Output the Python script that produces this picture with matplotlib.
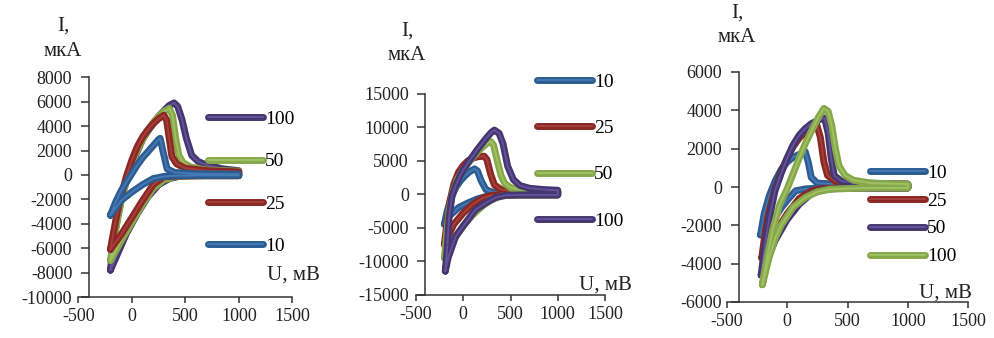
import matplotlib
matplotlib.use('Agg')
import matplotlib.pyplot as plt
import matplotlib.patheffects as pe

plt.rcParams['font.family'] = ['Liberation Serif', 'DejaVu Serif']
plt.rcParams['axes.unicode_minus'] = False

# scan rates, mV/s
RATES = ['10', '25', '50', '100']

# panel 1 (U in mV, I in uA), forward branch then reverse branch
p1_u10 = [-200, -150, -100, -50, 0, 50, 100, 150, 200, 250, 265, 290, 330, 400, 600, 800, 1000,
          1000, 800, 600, 400, 300, 200, 100, 0, -100, -200]
p1_i10 = [-3300, -2200, -1300, -600, 100, 800, 1400, 1900, 2400, 2900, 3000, 2000, 500, 200, 100, 80, 60,
          -40, -40, -40, -60, -120, -300, -800, -1400, -2100, -3300]
p1_u25 = [-200, -150, -100, -50, 0, 50, 100, 150, 200, 250, 300, 325, 350, 375, 420, 500, 700, 1000,
          1000, 700, 500, 400, 300, 200, 100, 0, -100, -200]
p1_i25 = [-6100, -3700, -1700, -100, 1200, 2300, 3100, 3700, 4200, 4600, 4900, 4500, 3000, 1500, 900, 550, 350, 250,
          -60, -60, -80, -100, -150, -800, -2100, -3500, -4900, -6100]
p1_u50 = [-200, -150, -100, -50, 0, 50, 100, 150, 200, 250, 300, 350, 380, 410, 440, 480, 550, 700, 1000,
          1000, 700, 500, 400, 300, 200, 100, 0, -100, -200]
p1_i50 = [-7000, -4400, -2200, -500, 900, 2000, 2900, 3700, 4300, 4800, 5200, 5450, 4900, 3000, 1600, 1000, 650, 400, 300,
          -60, -60, -80, -150, -400, -1100, -2400, -3900, -5400, -7000]
p1_u100 = [-200, -170, -130, -80, 0, 50, 100, 150, 200, 250, 310, 350, 395, 430, 470, 510, 560, 620, 700, 850, 1000,
           1000, 800, 600, 450, 350, 250, 150, 50, -50, -150, -200]
p1_i100 = [-7800, -5500, -3300, -1200, 800, 1900, 2900, 3600, 4200, 4800, 5350, 5700, 5900, 5600, 4500, 3000, 1600, 1100, 800, 500, 350,
           -60, -60, -60, -100, -300, -800, -1800, -3200, -4800, -6800, -7800]

# panel 2
p2_u10 = [-200, -170, -130, -80, -30, 20, 70, 120, 150, 190, 240, 300, 450, 700, 1000,
          1000, 600, 350, 250, 150, 50, -50, -150, -200]
p2_i10 = [-4500, -2500, -600, 1000, 2000, 2800, 3400, 3800, 3500, 2000, 700, 350, 250, 300, 350,
          -100, -100, -150, -300, -700, -1300, -2000, -3300, -4500]
p2_u25 = [-200, -170, -140, -100, -50, 0, 50, 100, 150, 220, 250, 290, 330, 400, 550, 800, 1000,
          1000, 700, 400, 300, 200, 100, 0, -100, -200]
p2_i25 = [-7500, -4000, -1000, 1500, 3300, 4300, 5000, 5400, 5600, 5700, 5200, 3000, 1400, 700, 450, 400, 400,
          -100, -100, -100, -150, -600, -1500, -2800, -4500, -7500]
p2_u50 = [-200, -175, -150, -110, -60, 0, 50, 100, 150, 200, 250, 290, 320, 360, 400, 440, 500, 650, 1000,
          1000, 700, 500, 400, 300, 200, 100, 0, -100, -200]
p2_i50 = [-9500, -6000, -2500, 300, 2300, 3600, 4600, 5500, 6300, 7000, 7600, 7900, 7400, 5000, 2800, 1600, 1000, 600, 450,
          -100, -100, -100, -300, -800, -1800, -3100, -4700, -6800, -9500]
p2_u100 = [-190, -170, -150, -120, -80, -40, 0, 50, 100, 150, 200, 250, 300, 330, 380, 420, 470, 530, 600, 700, 850, 1000,
           1000, 800, 600, 450, 350, 250, 130, 50, -80, -160, -190]
p2_i100 = [-11500, -8000, -3500, -300, 1300, 2600, 3600, 4700, 5700, 6700, 7600, 8500, 9300, 9600, 9100, 7600, 4200, 2200, 1300, 900, 700, 600,
           -100, -100, -100, -150, -450, -1200, -2300, -3800, -6300, -9500, -11500]

# panel 3
p3_u10 = [-220, -190, -150, -100, -50, 0, 50, 100, 150, 175, 200, 250, 400, 700, 1000,
          1000, 500, 250, 150, 70, 0, -50, -120, -220]
p3_i10 = [-2500, -1400, -500, 300, 900, 1300, 1550, 1700, 1850, 1300, 500, 200, 150, 120, 100,
          -50, -50, -60, -100, -200, -700, -1100, -1800, -2500]
p3_u25 = [-210, -180, -150, -100, -50, 0, 50, 100, 150, 200, 245, 275, 305, 335, 400, 600, 1000,
          1000, 500, 300, 200, 100, 0, -100, -210]
p3_i25 = [-3700, -2300, -1300, -100, 800, 1500, 2100, 2550, 2850, 3100, 3250, 2600, 1300, 600, 300, 200, 150,
          -50, -50, -80, -200, -600, -1400, -2400, -3700]
p3_u50 = [-215, -185, -150, -100, -50, 0, 50, 100, 150, 200, 260, 310, 340, 365, 390, 450, 650, 1000,
          1000, 600, 400, 300, 200, 100, 0, -100, -215]
p3_i50 = [-4600, -3100, -1700, -200, 700, 1500, 2200, 2700, 3050, 3300, 3500, 3600, 2800, 1500, 600, 300, 200, 150,
          -50, -50, -80, -150, -350, -900, -1700, -2800, -4600]
p3_u100 = [-205, -160, -120, -60, 0, 50, 100, 150, 200, 260, 305, 340, 370, 400, 430, 480, 550, 700, 1000,
           1000, 700, 500, 350, 250, 150, 50, -50, -100, -150, -205]
p3_i100 = [-5100, -3500, -2250, -900, -100, 700, 1500, 2250, 2900, 3650, 4100, 3950, 3200, 2000, 1100, 600, 350, 200, 150,
           -50, -50, -80, -120, -250, -550, -1050, -2000, -2700, -3700, -5100]

p1_ylim = (-10000, 8000)
p2_ylim = (-15000, 15000)
p3_ylim = (-6000, 6000)
p1_yticks = list(range(-10000, 8001, 2000))
p2_yticks = list(range(-15000, 15001, 5000))
p3_yticks = list(range(-6000, 6001, 2000))
xticks = [-500, 0, 500, 1000, 1500]

# colours: (outer, inner highlight)
BLUE = ('#2C5C92', '#4479B4')
RED = ('#8A2824', '#A83E39')
GREEN = ('#86A84A', '#A0C064')
PURPLE = ('#443770', '#63519A')

fig = plt.figure(figsize=(9.94, 3.38), dpi=100)
W, H = 994.0, 338.0


def make_panel(rect, curves, ylim, yticks, leg_xy, leg_spacing, i_xy, u_xy):
    ax = fig.add_axes(rect)
    for u, i, label, (dark, light) in curves:
        ax.plot(u, i, color=light, lw=1.4, label=label, solid_capstyle='round',
                solid_joinstyle='round',
                path_effects=[pe.Stroke(linewidth=5, foreground=dark, capstyle='round', joinstyle='round'),
                              pe.Normal()])
    ax.set_xlim(-500, 1500)
    ax.set_ylim(*ylim)
    ax.set_xticks(xticks)
    ax.set_yticks(yticks)
    ax.spines['top'].set_visible(False)
    ax.spines['right'].set_visible(False)
    ax.spines['left'].set_position(('data', -400))
    for s in ('left', 'bottom'):
        ax.spines[s].set_color('#333333')
        ax.spines[s].set_linewidth(1.1)
    ax.tick_params(axis='y', direction='out', length=6, width=1.1, pad=6, labelsize=13, colors='#333333',
                   labelcolor='#222222')
    ax.tick_params(axis='x', direction='out', length=4, width=1.1, pad=4, labelsize=13, colors='#333333',
                   labelcolor='#222222')
    ax.legend(loc='upper left', bbox_to_anchor=leg_xy, bbox_transform=fig.transFigure,
              frameon=False, borderpad=0, borderaxespad=0, handlelength=2.83, handletextpad=0.1,
              labelspacing=leg_spacing, prop={'size': 14})
    fig.text(i_xy[0], i_xy[1], 'I,', ha='center', va='center', fontsize=15, color='#222222')
    fig.text(i_xy[0], i_xy[1] - 25 / H, 'мкА', ha='center', va='center', fontsize=15, color='#222222')
    fig.text(u_xy[0], u_xy[1], 'U, мВ', ha='center', va='center', fontsize=15, color='#222222')
    return ax


make_panel([78.3 / W, 1 - 297 / H, 214 / W, 219.7 / H],
           [(p1_u100, p1_i100, '100', PURPLE), (p1_u50, p1_i50, '50', GREEN),
            (p1_u25, p1_i25, '25', RED), (p1_u10, p1_i10, '10', BLUE)],
           p1_ylim, p1_yticks, (208 / W, 1 - 110.5 / H), 1.27,
           (63 / W, 1 - 26 / H), (293 / W, 1 - 275 / H))

make_panel([416 / W, 1 - 294.5 / H, 189 / W, 200.5 / H],
           [(p2_u10, p2_i10, '10', BLUE), (p2_u25, p2_i25, '25', RED),
            (p2_u50, p2_i50, '50', GREEN), (p2_u100, p2_i100, '100', PURPLE)],
           p2_ylim, p2_yticks, (537 / W, 1 - 73 / H), 1.48,
           (407 / W, 1 - 31 / H), (605 / W, 1 - 285 / H))

make_panel([726.7 / W, 1 - 302 / H, 241.6 / W, 230 / H],
           [(p3_u10, p3_i10, '10', BLUE), (p3_u25, p3_i25, '25', RED),
            (p3_u50, p3_i50, '50', PURPLE), (p3_u100, p3_i100, '100', GREEN)],
           p3_ylim, p3_yticks, (870 / W, 1 - 164 / H), 0.53,
           (737 / W, 1 - 13 / H), (945 / W, 1 - 293 / H))

fig.savefig('out.png', dpi=100)
